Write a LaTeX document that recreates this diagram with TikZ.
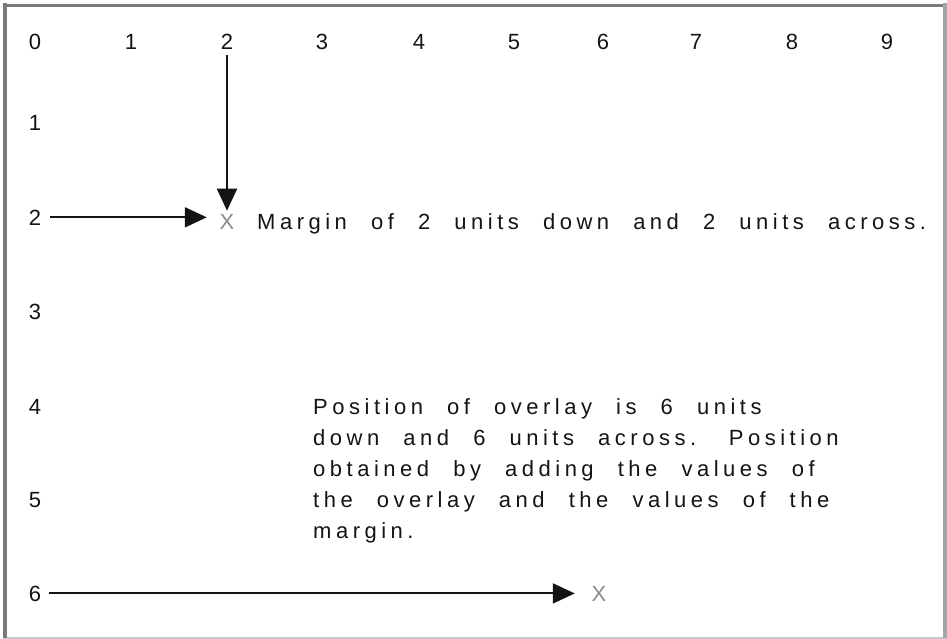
\documentclass[tikz,border=0pt]{standalone}
\usepackage{fontspec}
\setmainfont{Liberation Sans}
\newfontfamily\spc{Liberation Sans}[LetterSpace=20.5,WordSpace=2.27]
\usetikzlibrary{arrows.meta}
\definecolor{ink}{HTML}{141414}
\definecolor{framedark}{HTML}{7A7A7A}
\definecolor{framemid}{HTML}{A4A4A4}
\definecolor{framelight}{HTML}{C8C8C8}
\begin{document}
\begin{tikzpicture}[x=1pt,y=-1pt,
  num/.style={inner sep=0pt, anchor=base, font=\fontsize{22}{26}\selectfont, text=ink},
  txt/.style={inner sep=0pt, anchor=base west, font=\spc\fontsize{22}{31}\selectfont, text=ink},
  xmark/.style={inner sep=0pt, anchor=base, font=\fontsize{22}{26}\selectfont, text=black!45},
  arr/.style={line width=2pt, draw=ink, -{Triangle[length=22pt,width=20pt]}}]
\useasboundingbox (0,0) rectangle (947,639);
\fill[white] (0,0) rectangle (947,639);
% frame
\draw[framelight, line width=2pt] (3,637.5) -- (947,637.5);
\draw[framemid, line width=4pt] (944.5,3) -- (944.5,638);
\draw[framedark, line width=3.5pt] (3,5.5) -- (943,5.5);
\draw[framedark, line width=3.5pt] (5,3) -- (5,638);
% column numbers
\foreach \i/\x in {0/35,1/131,2/227,3/322,4/419,5/514,6/603,7/696,8/792,9/887}
  \node[num] (c\i) at (\x,50) {\i};
% row numbers
\foreach \i/\y in {1/131,2/225,3/319,4/414,5/507,6/601}
  \node[num] (r\i) at (35,\y) {\i};
% marks
\node[xmark] (x2) at (227,229) {X};
\node[xmark] (x6) at (599,601) {X};
% texts
\node[txt] (m) at (257,229) {Margin of 2 units down and 2 units across.};
\node[txt] (p1) at (313,414) {Position of overlay is 6 units};
\node[txt] (p2) at (313,445) {down and 6 units across.\hspace{5pt} Position};
\node[txt] (p3) at (313,476) {obtained by adding the values of};
\node[txt] (p4) at (313,507) {the overlay and the values of the};
\node[txt] (p5) at (313,538) {margin.};
% arrows
\draw[arr, shorten <=5pt, shorten >=3pt] (c2.south) -- (c2.south |- x2.north);
\draw[arr, shorten <=9pt, shorten >=12.7pt] (r2.east) -- (r2.east -| x2.west);
\draw[arr, shorten <=8pt, shorten >=16.7pt] (r6.east) -- (r6.east -| x6.west);
\end{tikzpicture}
\end{document}
